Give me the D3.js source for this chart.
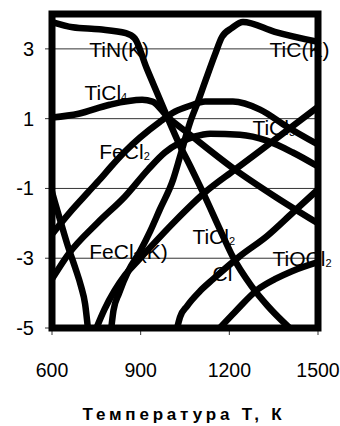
<!DOCTYPE html>
<html>
<head>
<meta charset="utf-8">
<script src="https://cdn.jsdelivr.net/npm/d3@7"></script>
<style>
  body { margin: 0; background: #fff; }
  svg { display: block; }
  text { font-family: "Liberation Sans", Arial, sans-serif; fill: #000; }
</style>
</head>
<body>
<svg id="chart" width="340" height="426"></svg>
<script>
// axis ticks
var xTicks = [600, 900, 1200, 1500];
var yTicks = [-5, -3, -1, 1, 3];

// series: [temperature K, value]
var tinK = [[600,3.77],[670,3.62],[760,3.56],[850,3.45],[880,3.3],[920,2.45],[960,1.65],[990,1.05],[1030,0.28],[1070,-0.4],[1110,-1.1],[1175,-2.3],[1210,-2.93],[1275,-3.8],[1330,-4.37],[1410,-5.05]];
var ticK = [[800,-5.05],[808,-4.5],[827,-4.0],[858,-3.37],[898,-2.8],[932,-2.23],[965,-1.6],[1010,-0.74],[1033,-0.09],[1067,0.89],[1094,1.49],[1118,2.06],[1151,2.83],[1175,3.34],[1209,3.6],[1246,3.77],[1354,3.49],[1500,3.2]];
var ticl4 = [[600,1.03],[690,1.14],[795,1.4],[905,1.54],[940,1.49],[990,1.06],[1067,0.54],[1219,-0.46],[1354,-1.23],[1500,-2.0]];
var ticl3 = [[600,-2.31],[660,-1.69],[722,-1.11],[762,-0.74],[800,-0.37],[847,0.06],[898,0.46],[965,0.91],[1016,1.2],[1067,1.37],[1118,1.49],[1212,1.49],[1304,1.26],[1395,0.77],[1500,0.26]];
var fecl2 = [[600,-3.6],[655,-2.89],[756,-1.97],[847,-1.23],[925,-0.46],[982,0.03],[1033,0.31],[1084,0.49],[1135,0.57],[1236,0.54],[1327,0.37],[1415,0.03],[1500,-0.37]];
var fecl2K = [[748,-5.05],[778,-4.46],[811,-3.94],[845,-3.51],[889,-3.09],[930,-2.71],[1016,-1.94],[1118,-1.11],[1219,-0.46],[1354,0.4],[1500,1.34]];
var steepLeft = [[600,-1.1],[610,-1.4],[627,-1.89],[654,-2.66],[678,-3.26],[698,-3.8],[712,-4.31],[722,-5.05]];
var cl = [[1022,-5.05],[1033,-4.69],[1057,-4.37],[1101,-3.94],[1145,-3.6],[1236,-2.94],[1327,-2.37],[1415,-1.69],[1500,-1.03]];
var tiocl2 = [[1162,-5.05],[1219,-4.54],[1297,-3.89],[1354,-3.6],[1412,-3.37],[1500,-3.11]];

var series = [tinK, ticK, ticl4, ticl3, fecl2, fecl2K, steepLeft, cl, tiocl2];

// curve labels, parts flagged 1 are subscripts
var labels = [
  {parts: [["TiN(K)",0]], T: 726, v: 2.77},
  {parts: [["TiC(K)",0]], T: 1336, v: 2.77},
  {parts: [["TiCl",0],["4",1]], T: 710, v: 1.54},
  {parts: [["FeCl",0],["2",1]], T: 760, v: -0.17},
  {parts: [["TiCl",0],["3",1]], T: 1278, v: 0.54},
  {parts: [["FeCl",0],["2",1],["(K)",0]], T: 726, v: -3.03},
  {parts: [["TiCl",0],["2",1]], T: 1075, v: -2.6},
  {parts: [["Cl",0]], T: 1143, v: -3.66},
  {parts: [["TiOCl",0],["2",1]], T: 1346, v: -3.23}
];

var svg = d3.select("#chart");

var x = d3.scaleLinear().domain([600, 1500]).range([52, 318]);
var y = d3.scaleLinear().domain([-5, 4]).range([328, 14]);

svg.append("defs").append("clipPath").attr("id", "plot")
  .append("rect")
  .attr("x", x(600)).attr("y", y(4))
  .attr("width", x(1500) - x(600)).attr("height", y(-5) - y(4));

// gridlines with small left ticks
svg.append("g").selectAll("line").data(yTicks).join("line")
  .attr("x1", x(600) - 7).attr("x2", x(1500))
  .attr("y1", function(d) { return y(d); })
  .attr("y2", function(d) { return y(d); })
  .attr("stroke", "#333").attr("stroke-width", 1);

// x ticks below the frame
svg.append("g").selectAll("line").data(xTicks).join("line")
  .attr("x1", function(d) { return x(d); })
  .attr("x2", function(d) { return x(d); })
  .attr("y1", y(-5)).attr("y2", y(-5) + 7)
  .attr("stroke", "#333").attr("stroke-width", 1);

// labels sit under the curves
var lab = svg.append("g").selectAll("text").data(labels).join("text")
  .attr("x", function(d) { return x(d.T); })
  .attr("y", function(d) { return y(d.v); })
  .attr("font-size", 21);
lab.selectAll("tspan").data(function(d) { return d.parts; }).join("tspan")
  .attr("font-size", function(p) { return p[1] ? 11 : 21; })
  .attr("dy", function(p, i, nodes) { return p[1] ? 1 : (i > 0 && d3.select(nodes[i-1]).datum()[1] ? -1 : 0); })
  .text(function(p) { return p[0]; });

var line = d3.line()
  .x(function(d) { return x(d[0]); })
  .y(function(d) { return y(d[1]); })
  .curve(d3.curveMonotoneX);

svg.append("g").attr("clip-path", "url(#plot)")
  .selectAll("path").data(series).join("path")
  .attr("d", line)
  .attr("fill", "none")
  .attr("stroke", "#000")
  .attr("stroke-width", 6.5)
  .attr("stroke-linejoin", "round");

// plot frame
svg.append("rect")
  .attr("x", x(600)).attr("y", y(4))
  .attr("width", x(1500) - x(600)).attr("height", y(-5) - y(4))
  .attr("fill", "none").attr("stroke", "#000").attr("stroke-width", 7);

svg.append("g").selectAll("text").data(yTicks).join("text")
  .attr("x", 34)
  .attr("y", function(d) { return y(d) + 7; })
  .attr("text-anchor", "end")
  .attr("font-size", 20)
  .text(function(d) { return d; });

svg.append("g").selectAll("text").data(xTicks).join("text")
  .attr("x", function(d) { return x(d); })
  .attr("y", 377)
  .attr("text-anchor", "middle")
  .attr("font-size", 19.5)
  .text(function(d) { return d; });

svg.append("text")
  .attr("x", 184).attr("y", 420)
  .attr("text-anchor", "middle")
  .attr("font-size", 17).attr("font-weight", "bold")
  .attr("letter-spacing", 3.8)
  .text("Температура Т, К");
</script>
</body>
</html>
